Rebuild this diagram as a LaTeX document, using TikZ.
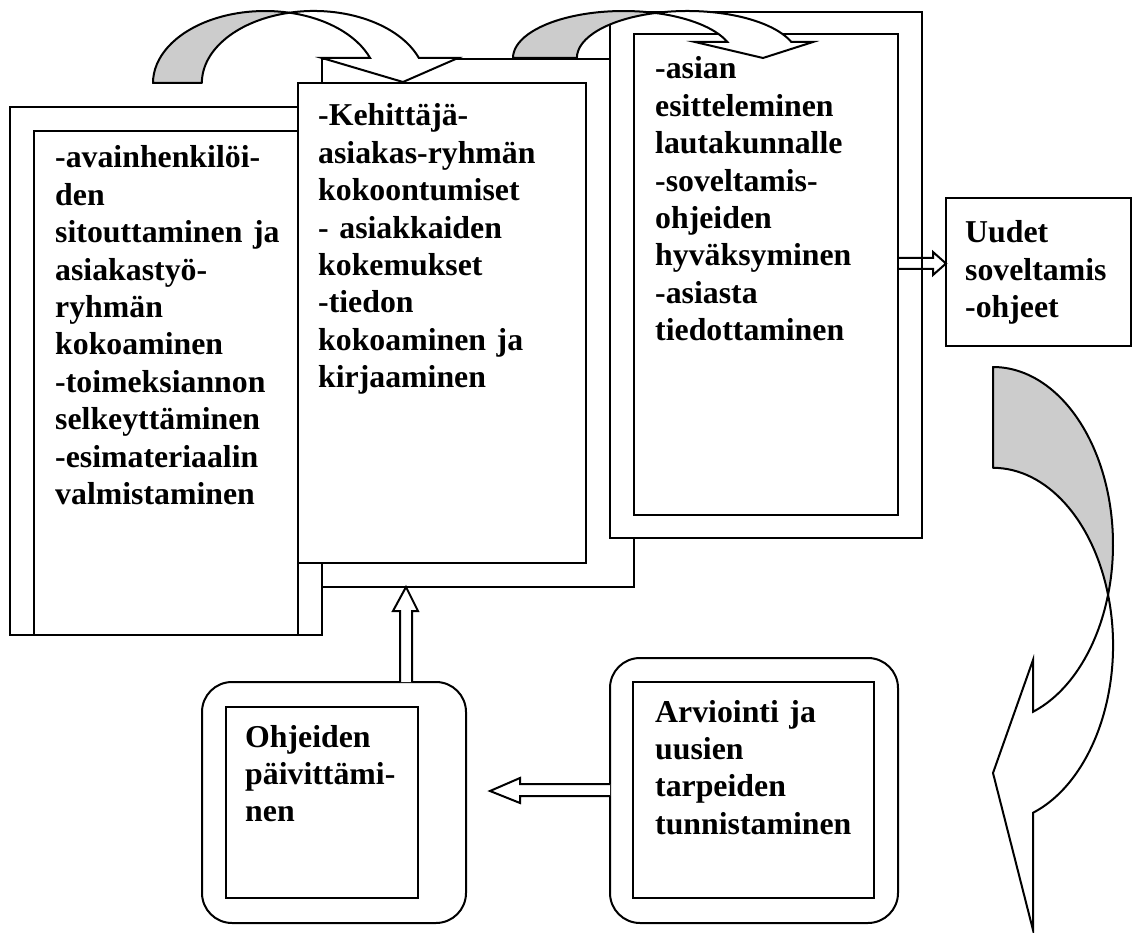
\documentclass[tikz,border=0pt]{standalone}
\usepackage{fontspec}
\setmainfont{Liberation Serif}
\begin{document}
\begin{tikzpicture}[x=1pt,y=-1pt,
  frame/.style={draw=black, line width=2pt, fill=white},
  shadeband/.style={draw=black, line width=2pt, fill=black!20, line join=round},
  band/.style={draw=black, line width=2pt, fill=white, line join=miter},
  hollow/.style={draw=black, line width=2pt, line join=miter},
  txt/.style={anchor=base west, inner sep=0pt, text width=#1, align=left,
    font=\bfseries\fontsize{31.8}{37.4}\selectfont},
]
\useasboundingbox (0,0) rectangle (1133,933);
% left group
\draw[frame] (10,107) rectangle (322,635);
\draw[frame] (34,131) rectangle (298,635);
% middle group
\draw[frame] (322,59) rectangle (634,587);
\draw[frame] (298,83) rectangle (586,563);
% right group
\draw[frame] (610,12) rectangle (922,538);
\draw[frame] (634,34) rectangle (898,515);
% result box
\draw[frame] (946,198) rectangle (1131,346);
% rounded boxes
\draw[frame, rounded corners=30pt] (202,682) rectangle (466,923);
\draw[frame] (226,707) rectangle (418,898);
\draw[frame, rounded corners=30pt] (610,658) rectangle (898,923);
\draw[frame] (633,682) rectangle (874,898);

% texts
\node[txt=250pt] (lefttext) at (55,168) {-avainhenkilöi-\\den\\sitouttaminen ja\\asiakastyö-\\ryhmän\\kokoaminen\\-toimeksiannon\\selkeyttäminen\\-esimateriaalin\\valmistaminen};
\node[txt=262pt] (midtext) at (318,126) {-Kehittäjä-\\asiakas-ryhmän\\kokoontumiset\\- asiakkaiden\\kokemukset\\-tiedon\\kokoaminen ja\\kirjaaminen};
\node[txt=240pt] (righttext) at (655,79) {-asian\\esitteleminen\\lautakunnalle\\-soveltamis-\\ohjeiden\\hyväksyminen\\-asiasta\\tiedottaminen};
\node[txt=160pt] (uudet) at (965,243) {Uudet\\soveltamis\\-ohjeet};
\node[txt=170pt] (ohjeet) at (245,747) {Ohjeiden\\päivittämi-\\nen};
\node[txt=220pt] (arviointi) at (655,722) {Arviointi ja\\uusien\\tarpeiden\\tunnistaminen};

% block arrows
\draw[band] (400,682) -- (400,611) -- (393,611) -- (406,587) -- (418,611) -- (412,611) -- (412,682);
\draw[band] (610,784) -- (520,784) -- (520,778) -- (490,791) -- (520,803) -- (520,796) -- (610,796);
\draw[hollow] (898,258) -- (933,258) -- (933,252) -- (946,263.5) -- (933,275) -- (933,269) -- (898,269);

% curved arrow 1 (left -> middle)
\draw[shadeband] (153,83) arc[start angle=180,end angle=282.6,x radius=112,y radius=72]
  arc[start angle=257.4,end angle=180,x radius=112,y radius=72] -- cycle;
\draw[band] (289.4,12.7) arc[start angle=257.4,end angle=339.7,x radius=112,y radius=72]
  -- (458,58) -- (403,82) -- (322,58) -- (370.1,58)
  arc[start angle=339.7,end angle=282.6,x radius=112,y radius=72] -- cycle;

% curved arrow 2 (middle -> right)
\draw[shadeband] (513,58) arc[start angle=180,end angle=286.8,x radius=110.5,y radius=47]
  arc[start angle=253.2,end angle=180,x radius=110.5,y radius=47] -- cycle;
\draw[band] (655.5,13) arc[start angle=253.2,end angle=340.1,x radius=110.5,y radius=47]
  -- (813,42) -- (763,58) -- (695,42) -- (727.4,42)
  arc[start angle=340.1,end angle=286.8,x radius=110.5,y radius=47] -- cycle;

% curved arrow 3 (right side, downwards)
\draw[shadeband] (993,367) arc[start angle=-90,end angle=16.5,x radius=120,y radius=177.5]
  arc[start angle=-16.5,end angle=-90,x radius=120,y radius=177.5] -- cycle;
\draw[band] (1108.1,595) arc[start angle=-16.5,end angle=70.5,x radius=120,y radius=177.5]
  -- (1033,930) -- (993,773) -- (1033,660) -- (1033,711.8)
  arc[start angle=70.5,end angle=16.5,x radius=120,y radius=177.5] -- cycle;
\end{tikzpicture}
\end{document}
